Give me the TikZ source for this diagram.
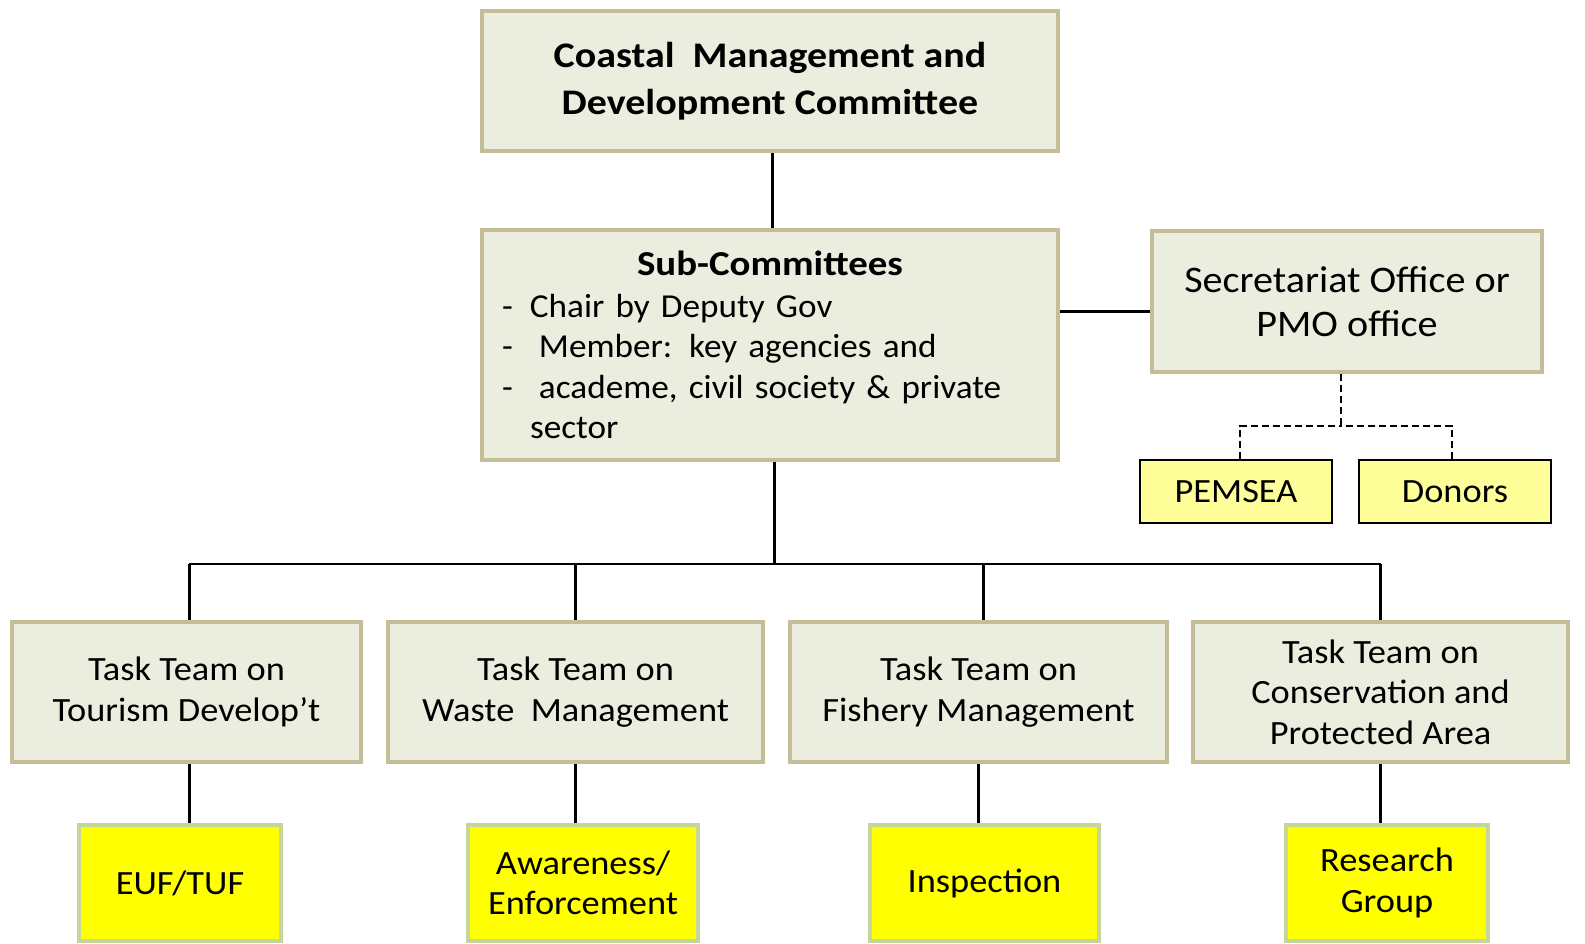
\documentclass[tikz,border=0pt]{standalone}
\usepackage{fontspec}
\setmainfont{Carlito}
\newfontfamily\fTask[FakeStretch=1.07]{Carlito}
\newfontfamily\fSub[FakeStretch=1.05]{Carlito}
\newfontfamily\fSec[FakeStretch=1.07]{Carlito}
\newfontfamily\fBold[FakeStretch=1.11]{Carlito}
\definecolor{tanb}{HTML}{C4BD97}
\definecolor{boxf}{HTML}{EBEEDE}
\definecolor{ygreen}{HTML}{C3D69B}
\definecolor{ylight}{HTML}{FFFF99}
\definecolor{yfull}{HTML}{FFFF00}
\newcommand\subln[2]{\makebox[556pt][l]{\hspace{10pt}\makebox[28pt][l]{#1}#2}}
\tikzset{
  tanbox/.style={draw=tanb, line width=4.5pt, fill=boxf, inner sep=0pt, align=center},
  ybox/.style={draw=ygreen, line width=4.5pt, fill=yfull, inner sep=0pt, align=center,
    font=\fTask\fontsize{34}{40.4}\selectfont},
  lybox/.style={draw=black, line width=1.5pt, fill=ylight, inner sep=0pt, align=center,
    minimum width=192pt, minimum height=63pt, font=\fTask\fontsize{34}{40.4}\selectfont},
  taskbox/.style={tanbox, minimum height=140pt, font=\fTask\fontsize{34}{40.4}\selectfont},
  conn/.style={draw=black, line width=3pt},
  bus/.style={draw=black, line width=2pt},
  dconn/.style={draw=black, line width=1.6pt, dash pattern=on 7pt off 4pt}
}
\begin{document}
\begin{tikzpicture}[x=1pt,y=-1pt]
\useasboundingbox (0,0) rectangle (1585,944);
\node[tanbox, minimum width=576pt, minimum height=140pt,
  font=\fBold\bfseries\fontsize{36}{46.5}\selectfont] (top) at (770,81)
  {Coastal\ \ Management and\\Development Committee};
\node[tanbox, minimum width=576pt, minimum height=230pt, text width=556pt,
  font=\fSub\fontsize{33.5}{40.5}\selectfont] (sub) at (770,345)
  {{\fBold\bfseries\fontsize{35}{40.5}\selectfont Sub-Committees}\\[1.5pt]
   \subln{-}{Chair by Deputy Gov}\\
   \subln{-}{\hspace{9pt}Member: key agencies and}\\
   \subln{-}{\hspace{9pt}academe, civil society \& private}\\
   \subln{}{sector}};
\node[tanbox, minimum width=390pt, minimum height=141pt,
  font=\fSec\fontsize{37.5}{44.5}\selectfont] (sec) at (1347,301.5)
  {Secretariat Office or\\PMO office};
\node[lybox] (pem) at (1236,491.5) {PEMSEA};
\node[lybox] (don) at (1455,491.5) {Donors};
\node[taskbox, minimum width=349pt] (t1) at (186.5,692) {Task Team on\\Tourism Develop’t};
\node[taskbox, minimum width=375pt] (t2) at (575.5,692) {Task Team on\\Waste\ \ Management};
\node[taskbox, minimum width=377pt] (t3) at (978.5,692) {Task Team on\\Fishery Management};
\node[taskbox, minimum width=375pt] (t4) at (1380.5,692) {Task Team on\\Conservation and\\Protected Area};
\node[ybox, minimum width=202pt, minimum height=116pt] (y1) at (180,883) {EUF/TUF};
\node[ybox, minimum width=230pt, minimum height=116pt] (y2) at (583,883) {Awareness/\\Enforcement};
\node[ybox, minimum width=229pt, minimum height=116pt] (y3) at (984.5,883) {Inspection};
\node[ybox, minimum width=202pt, minimum height=116pt] (y4) at (1387,883) {Research\\Group};
\coordinate (busc) at (774,564);
\coordinate (dj) at (1341,426);
\draw[conn] ([xshift=2pt]top.south) -- ([xshift=2pt]top.south |- sub.north);
\draw[conn] ([yshift=-9.5pt]sec.west) -- ([yshift=-9.5pt]sec.west -| sub.east);
\draw[conn] ([xshift=4pt]sub.south) -- (busc);
\draw[bus] ([xshift=2.5pt]t1.north |- busc) -- ([xshift=0.5pt]t4.north |- busc);
\draw[conn] ([xshift=2.5pt]t1.north) -- ([xshift=2.5pt]t1.north |- busc);
\draw[conn] (t2.north) -- (t2.north |- busc);
\draw[conn] ([xshift=4.5pt]t3.north) -- ([xshift=4.5pt]t3.north |- busc);
\draw[conn] (t4.north) -- (t4.north |- busc);
\draw[conn] ([xshift=2.5pt]t1.south) -- ([xshift=2.5pt]t1.south |- y1.north);
\draw[conn] (t2.south) -- (t2.south |- y2.north);
\draw[conn] (t3.south) -- (t3.south |- y3.north);
\draw[conn] (t4.south) -- (t4.south |- y4.north);
\draw[dconn] ([xshift=-6pt]sec.south) -- (dj);
\draw[dconn] ([xshift=4pt]pem.north) |- (dj);
\draw[dconn] ([xshift=-3pt]don.north) |- (dj);
\end{tikzpicture}
\end{document}
